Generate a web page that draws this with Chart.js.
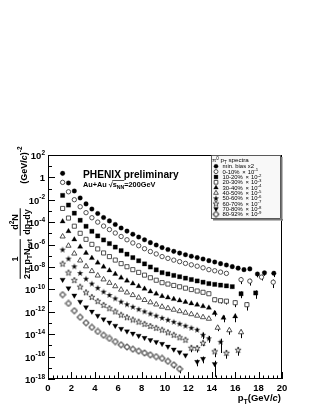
<!DOCTYPE html>
<html>
<head>
<meta charset="utf-8">
<script src="https://cdn.jsdelivr.net/npm/chart.js@4.4.0/dist/chart.umd.min.js"></script>
<style>
  html, body { margin: 0; padding: 0; background: #fff; }
  #wrap { width: 316px; height: 409px; }
</style>
</head>
<body>
<div id="wrap"><canvas id="spectra" width="316" height="409"></canvas></div>
<script>
// common pT bin centres (GeV/c)
const ptGrid = [1.25, 1.75, 2.25, 2.75, 3.25, 3.75, 4.25, 4.75, 5.25, 5.75, 6.25, 6.75, 7.25, 7.75,
  8.25, 8.75, 9.25, 9.75, 10.25, 10.75, 11.25, 11.75, 12.25, 12.75, 13.25, 13.75, 14.25, 14.75,
  15.25, 15.75, 16.25, 16.75];

// min. bias x2
const yMinBias = [2.3, 0.32, 0.062, 0.0147, 4.3e-3, 1.5e-3, 6.0e-4, 2.6e-4, 1.3e-4, 6.3e-5, 3.0e-5,
  1.6e-5, 8.5e-6, 4.7e-6, 2.7e-6, 1.5e-6, 9.1e-7, 5.4e-7, 3.6e-7, 2.5e-7, 1.75e-7, 1.26e-7, 9.2e-8,
  6.9e-8, 5.2e-8, 3.7e-8, 2.8e-8, 2.0e-8, 1.5e-8, 1.08e-8, 7.9e-9, 5.8e-9];
const ptMinBiasTail = [17.25, 17.9, 18.5, 19.3];
const yMinBiasTail = [6.8e-9, 2.4e-9, 3.0e-9, 2.8e-9];
const errMinBias = [0.3, 0.5, 0.45, 0.55];

// 0-10% x 10^-1
const y0010 = [0.36, 0.052, 0.0102, 2.4e-3, 7.1e-4, 2.5e-4, 1.02e-4, 4.5e-5, 2.2e-5, 1.08e-5, 5.3e-6,
  2.7e-6, 1.4e-6, 7.9e-7, 4.3e-7, 2.4e-7, 1.46e-7, 8.5e-8, 5.9e-8, 4.1e-8, 3.0e-8, 2.1e-8, 1.57e-8,
  1.18e-8, 8.5e-9, 5.8e-9, 4.6e-9, 3.5e-9, 2.7e-9];
const pt0010Tail = [16.5, 17.25, 18.25, 19.25];
const y0010Tail = [7.4e-10, 5.5e-10, 1.25e-9, 4.4e-10];
const err0010 = [0.6, 0.6, 0.5, 0.7];

// 10-20% x 10^-2
const y1020 = [0.0247, 3.4e-3, 6.4e-4, 1.49e-4, 4.3e-5, 1.54e-5, 5.96e-6, 2.6e-6, 1.24e-6, 6.0e-7,
  2.9e-7, 1.4e-7, 6.9e-8, 3.6e-8, 1.9e-8, 1.0e-8, 5.6e-9, 3.15e-9, 2.4e-9, 1.77e-9, 1.35e-9, 1.01e-9,
  7.6e-10, 5.7e-10, 4.4e-10, 3.3e-10, 2.8e-10, 2.4e-10, 2.07e-10, 1.76e-10];
const pt1020Tail = [16.5, 17.75];
const y1020Tail = [4.1e-11, 4.8e-11];
const err1020 = [0.3, 0.6, 0.7];

// 20-30% x 10^-3
const y2030 = [1.69e-3, 2.34e-4, 4.4e-5, 1.02e-5, 2.96e-6, 1.05e-6, 4.1e-7, 1.79e-7, 8.5e-8, 4.15e-8,
  2.0e-8, 1.06e-8, 5.8e-9, 3.3e-9, 1.88e-9, 1.1e-9, 6.6e-10, 4.0e-10, 3.0e-10, 2.25e-10, 1.72e-10,
  1.29e-10, 9.7e-11, 7.2e-11, 5.5e-11, 4.1e-11];
const pt2030Tail = [14.25, 14.75, 15.25, 16.0, 17.0];
const y2030Tail = [1.2e-11, 9.8e-12, 8.9e-12, 6.5e-12, 4.3e-12];
const err2030 = [0.4, 0.45, 0.5, 0.6, 0.7];

// 30-40% x 10^-4
const y3040 = [1.16e-4, 1.57e-5, 2.84e-6, 6.4e-7, 1.79e-7, 6.25e-8, 2.43e-8, 1.04e-8, 4.95e-9, 2.36e-9,
  1.12e-9, 6.05e-10, 3.3e-10, 1.95e-10, 1.12e-10, 6.5e-11, 4.1e-11, 2.5e-11, 1.86e-11, 1.36e-11,
  1.02e-11, 7.5e-12, 5.6e-12, 4.2e-12, 3.1e-12, 2.3e-12];
const pt3040Tail = [14.25, 15.0, 16.0];
const y3040Tail = [7.8e-13, 2.9e-13, 3.9e-13];
const err3040 = [0.5, 0.6, 0.7];

// 40-50% x 10^-5
const y4050 = [5.3e-6, 7.9e-7, 1.58e-7, 3.8e-8, 1.15e-8, 4.3e-9, 1.73e-9, 7.8e-10, 3.85e-10, 1.91e-10,
  9.5e-11, 5.3e-11, 3.1e-11, 1.86e-11, 1.13e-11, 7.0e-12, 4.5e-12, 2.85e-12, 2.1e-12, 1.53e-12,
  1.13e-12, 8.3e-13, 6.1e-13, 4.5e-13, 3.3e-13, 2.4e-13];
const pt4050Tail = [14.5, 15.5, 16.5];
const y4050Tail = [3.75e-14, 2.24e-14, 1.48e-14];
const err4050 = [0.5, 0.6, 0.7];

// 50-60% x 10^-6
const y5060 = [3.6e-7, 5.6e-8, 1.15e-8, 2.9e-9, 8.95e-10, 3.3e-10, 1.37e-10, 6.3e-11, 3.2e-11, 1.57e-11,
  8.0e-12, 4.7e-12, 2.8e-12, 1.73e-12, 1.08e-12, 6.9e-13, 4.5e-13, 2.9e-13, 1.95e-13, 1.29e-13,
  8.6e-14, 5.7e-14, 3.75e-14, 2.5e-14];
const pt5060Tail = [13.25, 13.75, 14.75];
const y5060Tail = [8.9e-15, 4.3e-15, 2.1e-15];
const err5060 = [0.3, 0.6, 0.6, 0.9];

// 60-70% x 10^-7
const y6070 = [2.0e-8, 3.2e-9, 6.8e-10, 1.76e-10, 5.5e-11, 2.14e-11, 9.0e-12, 4.1e-12, 2.1e-12, 1.08e-12,
  5.5e-13, 3.3e-13, 2.03e-13, 1.32e-13, 8.4e-14, 5.4e-14, 3.7e-14, 2.5e-14, 1.48e-14, 8.9e-15,
  5.3e-15, 3.2e-15];
const pt6070Tail = [12.25, 12.75, 13.25, 14.25, 15.25, 16.25];
const y6070Tail = [6.1e-16, 5.8e-16, 1.7e-15, 2.95e-16, 2.17e-16, 4.0e-16];
const err6070 = [0.6, 0.6, 0.5, 0.7, 0.7, 0.7];

// 70-80% x 10^-8
const y7080 = [7.4e-10, 1.29e-10, 2.9e-11, 8.0e-12, 2.6e-12, 1.04e-12, 4.5e-13, 2.17e-13, 1.12e-13,
  5.8e-14, 3.05e-14, 1.82e-14, 1.14e-14, 7.4e-15, 4.7e-15, 3.0e-15, 2.05e-15, 1.39e-15, 7.8e-16,
  4.4e-16, 2.45e-16, 1.3e-16];
const pt7080Tail = [12.75, 13.25, 14.25];
const y7080Tail = [3.4e-17, 6.3e-17, 2.2e-17];
const err7080 = [0.6, 0.6, 0.93];

// 80-92% x 10^-9
const y8092 = [3.4e-11, 5.6e-12, 1.25e-12, 3.3e-13, 1.05e-13, 4.1e-14, 1.75e-14, 8.1e-15, 4.2e-15,
  2.2e-15, 1.13e-15, 7.2e-16, 4.6e-16, 3.1e-16, 2.1e-16, 1.44e-16, 9.9e-17, 7.0e-17, 3.8e-17,
  1.83e-17, 8.0e-18];
const err8092 = [0.5, 0.6];

const legendNames = ['min. bias x2', '0-10%', '10-20%', '20-30%', '30-40%', '40-50%', '50-60%',
  '60-70%', '70-80%', '80-92%'];
const legendPowers = [null, -1, -2, -3, -4, -5, -6, -7, -8, -9];
const xTicks = [0, 2, 4, 6, 8, 10, 12, 14, 16, 18, 20];
const yDecades = [2, 0, -2, -4, -6, -8, -10, -12, -14, -16, -18];

const FONT = '"Liberation Sans", Arial, Helvetica, sans-serif';

function points(yGrid, ptTail, yTail) {
  const pts = yGrid.map((v, i) => ({ x: ptGrid[i], y: v }));
  (ptTail || []).forEach((p, i) => pts.push({ x: p, y: yTail[i] }));
  return pts;
}

// small star / cross markers
function starMarker(filled) {
  const c = document.createElement('canvas');
  c.width = 8; c.height = 8;
  const g = c.getContext('2d');
  g.beginPath();
  for (let i = 0; i < 10; i++) {
    const r = i % 2 ? 1.25 : 3.2;
    const a = -Math.PI / 2 + i * Math.PI / 5;
    g.lineTo(4 + r * Math.cos(a), 4.3 + r * Math.sin(a));
  }
  g.closePath();
  if (filled) { g.fillStyle = '#000'; g.fill(); }
  else { g.fillStyle = '#fff'; g.fill(); g.strokeStyle = '#333'; g.lineWidth = 0.85; g.stroke(); }
  return c;
}
function crossMarker() {
  const c = document.createElement('canvas');
  c.width = 8; c.height = 8;
  const g = c.getContext('2d');
  const a = 1.0, L = 2.8, o = 4;
  g.beginPath();
  g.moveTo(o - a, o - L); g.lineTo(o + a, o - L); g.lineTo(o + a, o - a); g.lineTo(o + L, o - a);
  g.lineTo(o + L, o + a); g.lineTo(o + a, o + a); g.lineTo(o + a, o + L); g.lineTo(o - a, o + L);
  g.lineTo(o - a, o + a); g.lineTo(o - L, o + a); g.lineTo(o - L, o - a); g.lineTo(o - a, o - a);
  g.closePath();
  g.fillStyle = '#fff'; g.fill();
  g.strokeStyle = '#333'; g.lineWidth = 0.85; g.stroke();
  return c;
}

const markers = [
  { style: 'circle', r: 2.3, fill: '#000', rot: 0 },
  { style: 'circle', r: 2.2, fill: '#fff', rot: 0 },
  { style: 'rect', r: 3.0, fill: '#000', rot: 0 },
  { style: 'rect', r: 2.9, fill: '#fff', rot: 0 },
  { style: 'triangle', r: 3.0, fill: '#000', rot: 0 },
  { style: 'triangle', r: 3.0, fill: '#fff', rot: 0 },
  { style: starMarker(true), r: 3, fill: '#000', rot: 0 },
  { style: starMarker(false), r: 3, fill: '#fff', rot: 0 },
  { style: 'triangle', r: 3.0, fill: '#000', rot: 180 },
  { style: crossMarker(), r: 3, fill: '#fff', rot: 0 }
];

const seriesData = [
  points(yMinBias, ptMinBiasTail, yMinBiasTail),
  points(y0010, pt0010Tail, y0010Tail),
  points(y1020, pt1020Tail, y1020Tail),
  points(y2030, pt2030Tail, y2030Tail),
  points(y3040, pt3040Tail, y3040Tail),
  points(y4050, pt4050Tail, y4050Tail),
  points(y5060, pt5060Tail, y5060Tail),
  points(y6070, pt6070Tail, y6070Tail),
  points(y7080, pt7080Tail, y7080Tail),
  points(y8092)
];
const seriesErr = [errMinBias, err0010, err1020, err2030, err3040, err4050, err5060, err6070, err7080, err8092];

const datasets = seriesData.map((d, i) => ({
  label: legendNames[i],
  data: d,
  errRel: seriesErr[i],
  pointStyle: markers[i].style,
  pointRadius: markers[i].r,
  pointHoverRadius: markers[i].r,
  pointRotation: markers[i].rot,
  backgroundColor: markers[i].fill,
  borderColor: markers[i].fill === '#000' ? '#000' : '#333',
  pointBorderWidth: markers[i].fill === '#000' ? 0.3 : 0.85,
  showLine: false
}));

// draws a row of text pieces (base, super-, subscripts)
function drawRuns(ctx, parts, x, y) {
  let cx = x;
  parts.forEach(p => {
    ctx.font = (p.it ? 'italic ' : '') + (p.w || 'bold') + ' ' + p.s + 'px ' + FONT;
    ctx.fillText(p.t, cx, y + (p.dy || 0));
    cx += ctx.measureText(p.t).width + (p.gap || 0);
  });
  return cx - x;
}
function runsWidth(ctx, parts) {
  let w = 0;
  parts.forEach(p => {
    ctx.font = (p.it ? 'italic ' : '') + (p.w || 'bold') + ' ' + p.s + 'px ' + FONT;
    w += ctx.measureText(p.t).width + (p.gap || 0);
  });
  return w;
}

const rootStyle = {
  id: 'rootStyle',
  beforeDatasetsDraw(chart) {
    // error bars
    const ctx = chart.ctx, ys = chart.scales.y, xs = chart.scales.x;
    ctx.save();
    ctx.strokeStyle = '#000';
    ctx.lineWidth = 1;
    chart.data.datasets.forEach(ds => {
      const errs = ds.errRel || [];
      const n = ds.data.length;
      errs.forEach((e, k) => {
        const p = ds.data[n - errs.length + k];
        const px = Math.round(xs.getPixelForValue(p.x)) + 0.5;
        const top = ys.getPixelForValue(p.y * (1 + e));
        const bot = ys.getPixelForValue(p.y * (1 - e));
        ctx.beginPath();
        ctx.moveTo(px, top);
        ctx.lineTo(px, bot);
        ctx.stroke();
      });
    });
    ctx.restore();
  },
  afterDraw(chart) {
    const ctx = chart.ctx, ca = chart.chartArea;
    const xs = chart.scales.x, ys = chart.scales.y;
    ctx.save();
    ctx.fillStyle = '#000';
    ctx.strokeStyle = '#000';
    ctx.lineWidth = 1;
    // frame
    ctx.strokeRect(ca.left + 0.5, ca.top + 0.5, ca.right - ca.left - 1, ca.bottom - ca.top - 1);
    // x ticks (inside)
    ctx.beginPath();
    for (let v = 0; v <= 20.001; v += 0.4) {
      const px = Math.round(xs.getPixelForValue(v)) + 0.5;
      const major = Math.abs(v / 2 - Math.round(v / 2)) < 1e-6;
      ctx.moveTo(px, ca.bottom);
      ctx.lineTo(px, ca.bottom - (major ? 7 : 3.5));
    }
    // y ticks (inside), every decade
    for (let e = -18; e <= 2; e++) {
      const py = Math.round(ys.getPixelForValue(Math.pow(10, e))) + 0.5;
      ctx.moveTo(ca.left, py);
      ctx.lineTo(ca.left + (e % 2 === 0 ? 7 : 4), py);
    }
    ctx.stroke();

    // x tick labels
    ctx.textBaseline = 'alphabetic';
    ctx.textAlign = 'left';
    xTicks.forEach(v => {
      const parts = [{ t: String(v), s: 9.5 }];
      const w = runsWidth(ctx, parts);
      drawRuns(ctx, parts, xs.getPixelForValue(v) - w / 2, 390.5);
    });
    // y tick labels
    yDecades.forEach(e => {
      const parts = e === 0 ? [{ t: '1', s: 9.5 }]
        : [{ t: '10', s: 9.5 }, { t: String(e), s: 6.5, dy: -4.5 }];
      const w = runsWidth(ctx, parts);
      drawRuns(ctx, parts, 45 - w, ys.getPixelForValue(Math.pow(10, e)) + 4);
    });

    // x title
    const xt = [{ t: 'p', s: 9.5 }, { t: 'T', s: 7, dy: 2.5 }, { t: '(GeV/', s: 9.5 },
      { t: 'c', s: 9.5, it: true }, { t: ')', s: 9.5 }];
    drawRuns(ctx, xt, 281 - runsWidth(ctx, xt), 401);

    // y title (rotated)
    ctx.save();
    ctx.translate(20, 212);
    ctx.rotate(-Math.PI / 2);
    const den1 = [{ t: '2\u03c0 p', s: 9 }, { t: 'T', s: 6.5, dy: 2.5 }, { t: 'N', s: 9 },
      { t: 'evt', s: 6.5, dy: 2.5 }];
    const w1 = runsWidth(ctx, den1);
    const c1 = -47;
    drawRuns(ctx, den1, c1 - w1 / 2, 9.5);
    const num1 = [{ t: '1', s: 9 }];
    drawRuns(ctx, num1, c1 - runsWidth(ctx, num1) / 2, -2);
    ctx.fillRect(c1 - w1 / 2, -0.3, w1, 1);
    const den2 = [{ t: 'dp', s: 9 }, { t: 'T', s: 6.5, dy: 2.5 }, { t: 'dy', s: 9 }];
    const num2 = [{ t: 'd', s: 9 }, { t: '2', s: 6.5, dy: -4 }, { t: 'N', s: 9 }];
    const w2 = runsWidth(ctx, den2);
    const c2 = -10;
    drawRuns(ctx, den2, c2 - w2 / 2, 9.5);
    drawRuns(ctx, num2, c2 - runsWidth(ctx, num2) / 2, -2);
    ctx.fillRect(c2 - w2 / 2 - 1, -0.3, w2 + 2, 1);
    const unit = [{ t: '(GeV/', s: 9 }, { t: 'c', s: 9, it: true }, { t: ')', s: 9 },
      { t: '-2', s: 6.5, dy: -4.5 }];
    drawRuns(ctx, unit, 47 - runsWidth(ctx, unit) / 2, 6.5);
    ctx.restore();

    // experiment labels
    drawRuns(ctx, [{ t: 'PHENIX preliminary', s: 10.2 }], 83, 177.5);
    const sx = 83 + drawRuns(ctx, [{ t: 'Au+Au ', s: 7.3 }], 83, 187);
    const rootW = drawRuns(ctx, [{ t: '\u221a', s: 7.3 }], sx, 187);
    const sw = drawRuns(ctx, [{ t: 's', s: 7.3 }, { t: 'NN', s: 5.2, dy: 1.5 }], sx + rootW, 187);
    ctx.fillRect(sx + rootW - 0.5, 180.1, sw + 0.5, 0.7);
    drawRuns(ctx, [{ t: '=200GeV', s: 7.3 }], sx + rootW + sw, 187);

    // legend box
    const lx0 = 211, ly0 = 155, lx1 = 281, ly1 = 219;
    ctx.fillStyle = '#777';
    ctx.fillRect(lx0 + 2, ly1, lx1 - lx0, 1.5);
    ctx.fillRect(lx1, ly0 + 2, 1.5, ly1 - ly0);
    ctx.fillStyle = '#f8f8f8';
    ctx.fillRect(lx0, ly0, lx1 - lx0, ly1 - ly0);
    ctx.strokeStyle = '#333';
    ctx.lineWidth = 0.8;
    ctx.strokeRect(lx0 + 0.5, ly0 + 0.5, lx1 - lx0 - 1, ly1 - ly0 - 1);
    ctx.fillStyle = '#000';
    drawRuns(ctx, [{ t: '\u03c0', s: 6.2, w: 'normal' }, { t: '0', s: 4.5, dy: -2.5, w: 'normal' },
      { t: ' p', s: 6.2, w: 'normal' }, { t: 'T', s: 4.5, dy: 1.5, w: 'normal' },
      { t: ' spectra', s: 6.2, w: 'normal' }], 212, 162.3);
    const helpers = Chart.helpers;
    chart.data.datasets.forEach((ds, i) => {
      const ry = 166.3 + i * 5.33;
      ctx.save();
      ctx.fillStyle = ds.backgroundColor;
      ctx.strokeStyle = ds.borderColor;
      ctx.lineWidth = ds.pointBorderWidth;
      const m = markers[i];
      const r = typeof m.style === 'string' ? m.r * 0.9 : m.r;
      helpers.drawPoint(ctx, { pointStyle: m.style, radius: r, rotation: m.rot,
        borderWidth: ds.pointBorderWidth }, 216, ry);
      ctx.restore();
      const parts = [{ t: legendNames[i], s: 5.9, w: 'normal', gap: 1 }];
      if (legendPowers[i] !== null) {
        parts.push({ t: ' \u00d7 ', s: 5.9, w: 'normal', gap: 0.5 });
        parts.push({ t: '10', s: 5.9, w: 'normal' });
        parts.push({ t: String(legendPowers[i]), s: 4.3, dy: -2.4, w: 'normal' });
      }
      ctx.fillStyle = '#000';
      drawRuns(ctx, parts, 222.5, ry + 2.1);
    });
    ctx.restore();
  }
};

new Chart(document.getElementById('spectra'), {
  type: 'scatter',
  data: { datasets: datasets },
  options: {
    responsive: false,
    animation: false,
    events: [],
    layout: { padding: { left: 48, right: 34, top: 155, bottom: 30 } },
    scales: {
      x: { type: 'linear', min: 0, max: 20, display: false },
      y: { type: 'logarithmic', min: 1e-18, max: 1e2, display: false }
    },
    plugins: {
      legend: { display: false },
      tooltip: { enabled: false }
    }
  },
  plugins: [rootStyle]
});
</script>
</body>
</html>
